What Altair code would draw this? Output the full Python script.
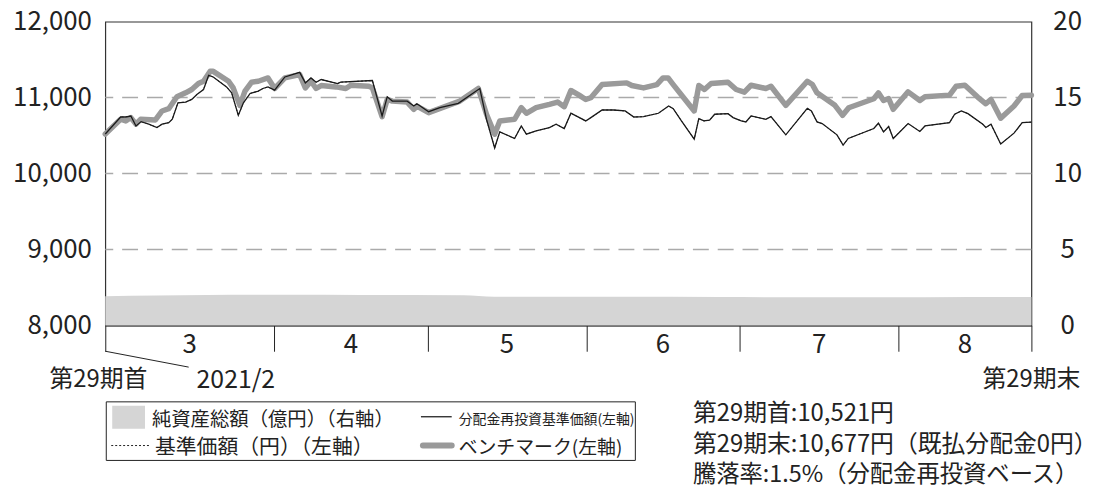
import altair as alt
import pandas as pd

FONT = "Noto Sans CJK JP"
W, H = 933, 306

# ---- data ----
days_nav = [0, 3, 4, 5, 6, 7, 8.5, 10.1, 11.1, 12.4, 13.1, 14.2, 15.7, 16.9, 17.9, 19.2, 20.2, 21.1, 23.7, 24.7,
            26.0, 27.0, 28.3, 29.9, 30.8, 31.8, 33.1, 35.1, 38.0, 39.1, 40.2, 41.2, 42.2, 45.4, 46.0, 52.2, 54.1,
            55.1, 56.1, 59.0, 60.3, 60.9, 63.2, 65.4, 69.0, 73.2, 74.5, 76.1, 77.1, 80.0, 81.3, 82.3, 84.2, 86.8,
            88.1, 89.7, 91.0, 93.9, 94.9, 97.1, 99.3, 101.6, 103.3, 105.2, 108.1, 110.1, 111.0, 112.6, 115.1,
            116.0, 117.0, 118.1, 119.1, 121.7, 122.7, 124.3, 125.2, 126.2, 129.1, 130.1, 133.0, 137.2, 138.0,
            139.1, 140.1, 143.0, 144.2, 145.2, 150.2, 151.1, 152.1, 153.1, 154.0, 156.9, 159.2, 160.2, 165.0,
            166.0, 167.3, 168.6, 171.5, 172.1, 173.1, 175.0, 177.6, 179.2, 181]
nav = [10521, 10745, 10745, 10758, 10627, 10684, 10650, 10606, 10650, 10671, 10715, 10932, 10941, 10976, 11042,
       11107, 11294, 11272, 11141, 11063, 10767, 10932, 11055, 11085, 11120, 11141, 11098, 11272, 11333, 11194,
       11259, 11203, 11238, 11185, 11203, 11225, 10758, 11011, 10954, 10954, 10889, 10919, 10815, 10867, 10924,
       11120, 10715, 10336, 10549, 10462, 10627, 10519, 10562, 10606, 10650, 10593, 10794, 10693, 10737, 10837,
       10837, 10824, 10745, 10750, 10794, 10889, 10854, 10693, 10454, 10724, 10693, 10702, 10781, 10789, 10737,
       10693, 10680, 10758, 10715, 10750, 10510, 10859, 10824, 10680, 10658, 10510, 10375, 10462, 10593, 10663,
       10549, 10619, 10462, 10658, 10554, 10627, 10671, 10781, 10824, 10789, 10650, 10606, 10650, 10389, 10532,
       10671, 10677]

days_bm = [0, 3.0, 4.0, 5.0, 6.0, 6.9, 9.8, 11.1, 12.4, 14.0, 15.7, 16.9, 18.2, 19.2, 20.5, 21.1, 24.1, 25.0,
           26.3, 27.3, 28.6, 29.9, 31.8, 33.1, 35.1, 38.0, 39.1, 40.2, 41.2, 42.2, 45.1, 47.0, 48.0, 51.5, 52.2,
           54.1, 55.1, 56.1, 59.0, 60.3, 60.9, 63.2, 69.3, 72.9, 74.5, 76.1, 77.1, 80.0, 81.3, 82.3, 84.2, 86.8,
           88.4, 89.7, 91.0, 92.6, 93.9, 94.9, 97.1, 101.9, 102.9, 105.2, 107.8, 109.0, 110.0, 111.0, 115.1,
           116.0, 117.1, 118.4, 121.7, 123.3, 124.9, 126.2, 129.1, 130.1, 133.0, 137.2, 138.2, 139.1, 142.6,
           144.1, 145.3, 150.2, 151.1, 152.1, 153.1, 154.0, 156.9, 159.2, 160.2, 165.0, 166.3, 168.0, 170.5,
           172.1, 173.1, 175.0, 177.6, 179.2, 181]
bm = [10521, 10715, 10693, 10737, 10650, 10715, 10706, 10824, 10854, 11011, 11063, 11107, 11185, 11216, 11346,
      11346, 11216, 11128, 10898, 11085, 11203, 11216, 11259, 11120, 11259, 11303, 11128, 11216, 11120, 11159,
      11141, 11120, 11163, 11150, 11128, 10749, 10976, 10954, 10941, 10846, 10889, 10802, 10954, 11120, 10781,
      10519, 10693, 10715, 10867, 10794, 10867, 10911, 10941, 10880, 11094, 11033, 10976, 10998, 11172, 11194,
      11159, 11128, 11172, 11259, 11259, 11172, 10824, 11159, 11107, 11185, 11203, 11107, 11072, 11163, 11120,
      11150, 10898, 11216, 11172, 11063, 10898, 10767, 10867, 10985, 11063, 10963, 10989, 10846, 11076, 10963,
      11011, 11033, 11150, 11163, 11007, 10919, 10976, 10728, 10889, 11028, 11033]

days_aum = [0, 10, 20, 35, 50, 70, 76, 100, 120, 140, 160, 181]
aum = [1.92, 1.97, 2.0, 2.02, 2.0, 1.98, 1.88, 1.88, 1.87, 1.85, 1.86, 1.87]

month_bounds = [0, 33, 63, 94, 124, 155, 181]
month_labels = ["3", "4", "5", "6", "7", "8"]
grid_vals = [9000, 10000, 11000]
left_ticks = [8000, 9000, 10000, 11000, 12000]
right_ticks = [0, 5, 10, 15, 20]

df_nav = pd.DataFrame({"day": days_nav, "v": nav})
df_bm = pd.DataFrame({"day": days_bm, "v": bm})
df_aum = pd.DataFrame({"day": days_aum, "aum": aum})
df_grid = pd.DataFrame({"v": grid_vals})
df_months = pd.DataFrame({
    "mid": [(month_bounds[i] + month_bounds[i + 1]) / 2 for i in range(len(month_labels))],
    "label": month_labels,
})

# ---- scales / axes ----
x_scale = alt.Scale(domain=[0, 181], nice=False, zero=False)
x_axis = alt.Axis(values=month_bounds, labels=False, tickSize=26, tickColor="#222", tickWidth=1,
                  domainColor="#222", domainWidth=1.2, grid=False, title=None)
y_scale = alt.Scale(domain=[8000, 12000], nice=False, zero=False)
y_axis = alt.Axis(orient="left", values=left_ticks, labelExpr="format(datum.value, ',')", ticks=False,
                  domain=False, grid=False, labelPadding=14, labelFontSize=26, labelFont=FONT,
                  labelColor="#222", title=None)
X = alt.X("day:Q", scale=x_scale, axis=x_axis)
Y = alt.Y("v:Q", scale=y_scale, axis=y_axis)

area = alt.Chart(df_aum).mark_area(color="#d5d5d5", interpolate="monotone").encode(
    x=X,
    y=alt.Y("aum:Q", scale=alt.Scale(domain=[0, 20], nice=False),
            axis=alt.Axis(orient="right", values=right_ticks, ticks=False, domain=False, grid=False,
                          labelAlign="center", labelPadding=36, labelFontSize=26, labelFont=FONT,
                          labelColor="#222", title=None)),
)

grid = alt.Chart(df_grid).mark_rule(color="#aaaaaa", strokeWidth=1.5, strokeDash=[16, 9]).encode(y=Y)
dotted = alt.Chart(df_nav).mark_line(color="#222", strokeWidth=1, strokeDash=[2, 2]).encode(x=X, y=Y)
bm_line = alt.Chart(df_bm).mark_line(color="#9a9a9a", strokeWidth=5.5, strokeJoin="round",
                                     strokeCap="round").encode(x=X, y=Y)
nav_line = alt.Chart(df_nav).mark_line(color="#1a1a1a", strokeWidth=1.3).encode(x=X, y=Y)
left = alt.layer(grid, dotted, bm_line, nav_line)

months = alt.Chart(df_months).mark_text(fontSize=26, font=FONT, color="#222", baseline="middle").encode(
    x=alt.X("mid:Q", scale=x_scale, axis=x_axis), y=alt.value(H + 20), text="label:N")

one = pd.DataFrame({"a": [0]})


def txt(s, x, y, size=22, align="left", **kw):
    return alt.Chart(one).mark_text(text=s, fontSize=size, font=FONT, color="#222", align=align,
                                    baseline="middle", **kw).encode(x=alt.value(x), y=alt.value(y))


def rule(x, x2, y, y2, **kw):
    return alt.Chart(one).mark_rule(**kw).encode(x=alt.value(x), x2=alt.value(x2), y=alt.value(y),
                                                 y2=alt.value(y2))


decor = [
    rule(0, 84, 332, 348, color="#222", strokeWidth=1),
    txt("第29期首", -7, 361, 24, "center"),
    txt("2021/2", 92, 361, 25),
    txt("第29期末", 933, 361, 24, "center"),
    # legend box
    alt.Chart(one).mark_rect(fillOpacity=0, stroke="#222", strokeWidth=1).encode(
        x=alt.value(1), x2=alt.value(534), y=alt.value(383), y2=alt.value(442)),
    alt.Chart(one).mark_rect(color="#d5d5d5").encode(
        x=alt.value(7), x2=alt.value(40), y=alt.value(387), y2=alt.value(410)),
    txt("純資産総額（億円）（右軸）", 47, 401, 19.5),
    rule(6, 44, 427, 427, color="#222", strokeWidth=1, strokeDash=[2, 2]),
    txt("基準価額（円）（左軸）", 50, 430, 21),
    rule(318, 349, 398, 398, color="#222", strokeWidth=1.3),
    txt("分配金再投資基準価額(左軸)", 356, 401, 14),
    rule(320, 349, 427, 427, color="#9a9a9a", strokeWidth=6, strokeCap="round"),
    txt("ベンチマーク(左軸)", 356, 430, 19),
    # annotation
    txt("第29期首:10,521円", 592, 395, 24),
    txt("第29期末:10,677円（既払分配金0円）", 592, 427, 24),
    txt("騰落率:1.5%（分配金再投資ベース）", 592, 457, 23.5),
]

chart = alt.layer(area, left, months, *decor).resolve_scale(y="independent").properties(
    width=W, height=H,
    autosize=alt.AutoSizeParams(type="none"),
    padding={"left": 98, "top": 12, "right": 55, "bottom": 162},
).configure_view(stroke="#333", strokeWidth=1.2)

chart.save("out.html", embed_options={"renderer": "svg", "actions": False})
